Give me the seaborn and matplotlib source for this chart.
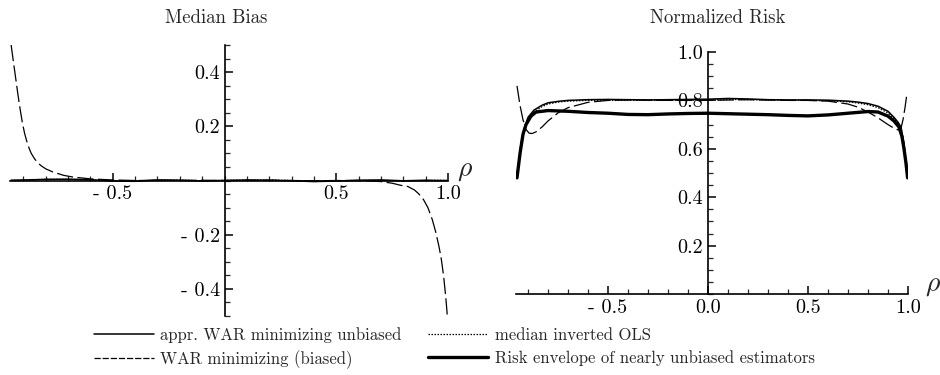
import numpy as np
import pandas as pd
import seaborn as sns
import matplotlib.pyplot as plt
from matplotlib.lines import Line2D
from matplotlib.ticker import FixedLocator, MultipleLocator

sns.set_style("white")
plt.rcParams['font.family'] = ['cmr10', 'DejaVu Serif']
plt.rcParams['mathtext.fontset'] = 'cm'
plt.rcParams['axes.formatter.use_mathtext'] = True

# ---- series names ----
names = ["appr. WAR minimizing unbiased", "WAR minimizing (biased)",
         "median inverted OLS", "Risk envelope of nearly unbiased estimators"]

# ---- left panel: median bias ----
bias_war_rho = [-0.955, -0.945, -0.935, -0.925, -0.915, -0.905, -0.895, -0.885, -0.875, -0.865,
                -0.85, -0.835, -0.82, -0.80, -0.77, -0.72, -0.68, -0.6, -0.5, -0.4, -0.3,
                -0.2, -0.1, 0.0, 0.1, 0.2, 0.3, 0.4, 0.5, 0.6, 0.7, 0.75, 0.79, 0.82, 0.85,
                0.87, 0.89, 0.91, 0.93, 0.945, 0.96, 0.97, 0.98, 0.99, 0.997]
bias_war = [0.50, 0.44, 0.38, 0.32, 0.265, 0.215, 0.175, 0.145, 0.12, 0.10,
            0.08, 0.065, 0.054, 0.043, 0.032, 0.019, 0.013, 0.006, 0.002, 0.000, 0.001,
            0.000, 0.001, 0.000, 0.000, 0.001, 0.000, -0.001, 0.000, 0.000, -0.004, -0.010, -0.018, -0.022, -0.035,
            -0.05, -0.07, -0.10, -0.145, -0.19, -0.245, -0.29, -0.35, -0.43, -0.50]

bias_rho = [-0.955, -0.9, -0.8, -0.7, -0.6, -0.5, -0.4, -0.3, -0.2, -0.1, 0.0,
            0.1, 0.2, 0.3, 0.4, 0.5, 0.6, 0.7, 0.8, 0.9, 0.95, 0.995]
bias_appr = [0.001, 0.002, 0.004, 0.005, 0.003, -0.002, -0.003, 0.002, 0.001, -0.002, 0.0,
             0.002, 0.001, -0.001, -0.004, -0.002, 0.001, 0.002, -0.001, 0.001, 0.0, 0.0]
bias_ols = [0.000, 0.001, 0.005, 0.004, 0.002, -0.001, -0.002, 0.001, 0.002, -0.001, 0.001,
            0.001, 0.002, 0.000, -0.003, -0.001, 0.000, 0.001, -0.002, 0.000, 0.001, 0.0]

# ---- right panel: normalized risk ----
risk_rho = [-0.955, -0.935, -0.92, -0.90, -0.87, -0.83, -0.80, -0.75, -0.7, -0.6, -0.5, -0.4,
            -0.3, -0.2, -0.1, 0.0, 0.1, 0.2, 0.3, 0.4, 0.5, 0.6, 0.7, 0.75, 0.8, 0.85, 0.9,
            0.93, 0.95, 0.965, 0.98, 0.995]
risk_appr = [0.49, 0.62, 0.68, 0.73, 0.76, 0.78, 0.79, 0.796, 0.80, 0.803, 0.804, 0.803,
             0.802, 0.803, 0.804, 0.805, 0.808, 0.806, 0.803, 0.802, 0.802, 0.801, 0.797, 0.793, 0.787,
             0.776, 0.755, 0.73, 0.71, 0.69, 0.62, 0.50]
risk_ols = [0.49, 0.61, 0.67, 0.72, 0.752, 0.774, 0.785, 0.793, 0.797, 0.80, 0.80, 0.80,
            0.80, 0.80, 0.801, 0.802, 0.804, 0.803, 0.801, 0.80, 0.80, 0.798, 0.794, 0.789, 0.782,
            0.77, 0.748, 0.724, 0.705, 0.688, 0.62, 0.50]

risk_war_rho = [-0.955, -0.94, -0.925, -0.91, -0.895, -0.88, -0.86, -0.83, -0.8, -0.75, -0.7,
                -0.6, -0.5, -0.4, -0.2, 0.0, 0.2, 0.4, 0.5, 0.6, 0.7, 0.75, 0.8, 0.85, 0.9,
                0.93, 0.95, 0.965, 0.975, 0.985, 0.995]
risk_war = [0.86, 0.78, 0.72, 0.68, 0.665, 0.663, 0.67, 0.69, 0.715, 0.748, 0.77,
            0.792, 0.80, 0.802, 0.80, 0.80, 0.803, 0.80, 0.80, 0.797, 0.785, 0.772, 0.752, 0.728, 0.70,
            0.685, 0.678, 0.685, 0.72, 0.77, 0.83]

env_rho = [-0.955, -0.94, -0.925, -0.91, -0.885, -0.86, -0.8, -0.7, -0.6, -0.5, -0.4, -0.3,
           -0.2, -0.1, 0.0, 0.1, 0.2, 0.3, 0.4, 0.5, 0.6, 0.7, 0.8, 0.85, 0.9, 0.93, 0.955,
           0.97, 0.98, 0.99, 0.998]
risk_env = [0.48, 0.58, 0.66, 0.70, 0.735, 0.752, 0.758, 0.755, 0.75, 0.747, 0.742, 0.741,
            0.744, 0.746, 0.747, 0.745, 0.743, 0.741, 0.738, 0.736, 0.74, 0.747, 0.754, 0.752, 0.735,
            0.715, 0.69, 0.65, 0.60, 0.54, 0.48]


def long_frame(parts):
    frames = [pd.DataFrame({"rho": r, "val": v, "series": n}) for n, r, v in parts]
    return pd.concat(frames, ignore_index=True)


bias_df = long_frame([(names[0], bias_rho, bias_appr),
                      (names[2], bias_rho, bias_ols),
                      (names[1], bias_war_rho, bias_war)])
risk_df = long_frame([(names[0], risk_rho, risk_appr),
                      (names[2], risk_rho, risk_ols),
                      (names[1], risk_war_rho, risk_war),
                      (names[3], env_rho, risk_env)])

dash_map = {names[0]: "", names[1]: (13, 3.5), names[2]: (1.2, 1.2), names[3]: ""}
size_map = {names[0]: 1.1, names[1]: 0.9, names[2]: 0.9, names[3]: 2.4}

fig = plt.figure(figsize=(9.4, 3.75), dpi=100)
ax1 = fig.add_axes([10 / 940, 1 - 316 / 375, 438 / 940, 271 / 375])
ax2 = fig.add_axes([516 / 940, 1 - 294 / 375, 392 / 940, 242 / 375])

for ax, df in [(ax1, bias_df), (ax2, risk_df)]:
    lv = [n for n in names if n in df["series"].unique()]
    sns.lineplot(data=df, x="rho", y="val", style="series", size="series",
                 style_order=lv, size_order=lv,
                 dashes={k: dash_map[k] for k in lv}, sizes={k: size_map[k] for k in lv},
                 color="black", estimator=None, sort=False, legend=False, ax=ax)

# axes styling: Mathematica-like axes through origin
for ax in (ax1, ax2):
    ax.set_xlabel("")
    ax.set_ylabel("")
    ax.spines["top"].set_visible(False)
    ax.spines["right"].set_visible(False)
    ax.spines["left"].set_position(("data", 0))
    ax.spines["bottom"].set_position(("data", 0))
    for s in ("left", "bottom"):
        ax.spines[s].set_linewidth(1.2)
        ax.spines[s].set_color("black")
    ax.set_xlim(-0.96, 1.0)
    ax.xaxis.set_minor_locator(MultipleLocator(0.1))
    ax.yaxis.set_minor_locator(MultipleLocator(0.05))
    ax.tick_params(which="major", direction="in", length=6, width=1.1, labelsize=14.5,
                   colors="black", left=True, bottom=True)
    ax.tick_params(which="minor", direction="in", length=3.5, width=0.9, left=True, bottom=True)
    ax.patch.set_alpha(0)

ax1.set_ylim(-0.5, 0.5)
ax1.xaxis.set_major_locator(FixedLocator([-0.5, 0.5, 1.0]))
ax1.set_xticklabels(["- 0.5", "0.5", "1.0"])
ax1.yaxis.set_major_locator(FixedLocator([-0.4, -0.2, 0.2, 0.4]))
ax1.set_yticklabels(["- 0.4", "- 0.2", "0.2", "0.4"])

ax2.set_ylim(0, 1.0)
ax2.xaxis.set_major_locator(FixedLocator([-0.5, 0.0, 0.5, 1.0]))
ax2.set_xticklabels(["- 0.5", "0.0", "0.5", "1.0"])
ax2.yaxis.set_major_locator(FixedLocator([0.2, 0.4, 0.6, 0.8, 1.0]))
ax2.set_yticklabels(["0.2", "0.4", "0.6", "0.8", "1.0"])

# titles and axis symbols
fig.text(216 / 940, 1 - 18 / 375, "Median Bias", ha="center", va="center", fontsize=13.5)
fig.text(718 / 940, 1 - 18 / 375, "Normalized Risk", ha="center", va="center", fontsize=13.5)
fig.text(465 / 940, 1 - 170 / 375, r"$\rho$", ha="center", va="center", fontsize=20)
fig.text(933 / 940, 1 - 285 / 375, r"$\rho$", ha="center", va="center", fontsize=20)

# legend
handles = [Line2D([], [], color="black", lw=size_map[n],
                  dashes=dash_map[n] if dash_map[n] else (None, None)) for n in names]
for h, n in zip(handles, names):
    if dash_map[n] == "":
        h.set_linestyle("-")
handles[1].set_dashes((5, 1.5))
fig.legend(handles, names, ncol=2, loc="lower left", bbox_to_anchor=(82 / 940, -0.015),
           frameon=False, fontsize=12, handlelength=3.6, handletextpad=0.4,
           columnspacing=1.6, labelspacing=0.45, borderpad=0.2)

fig.savefig("out.png", dpi=100)
